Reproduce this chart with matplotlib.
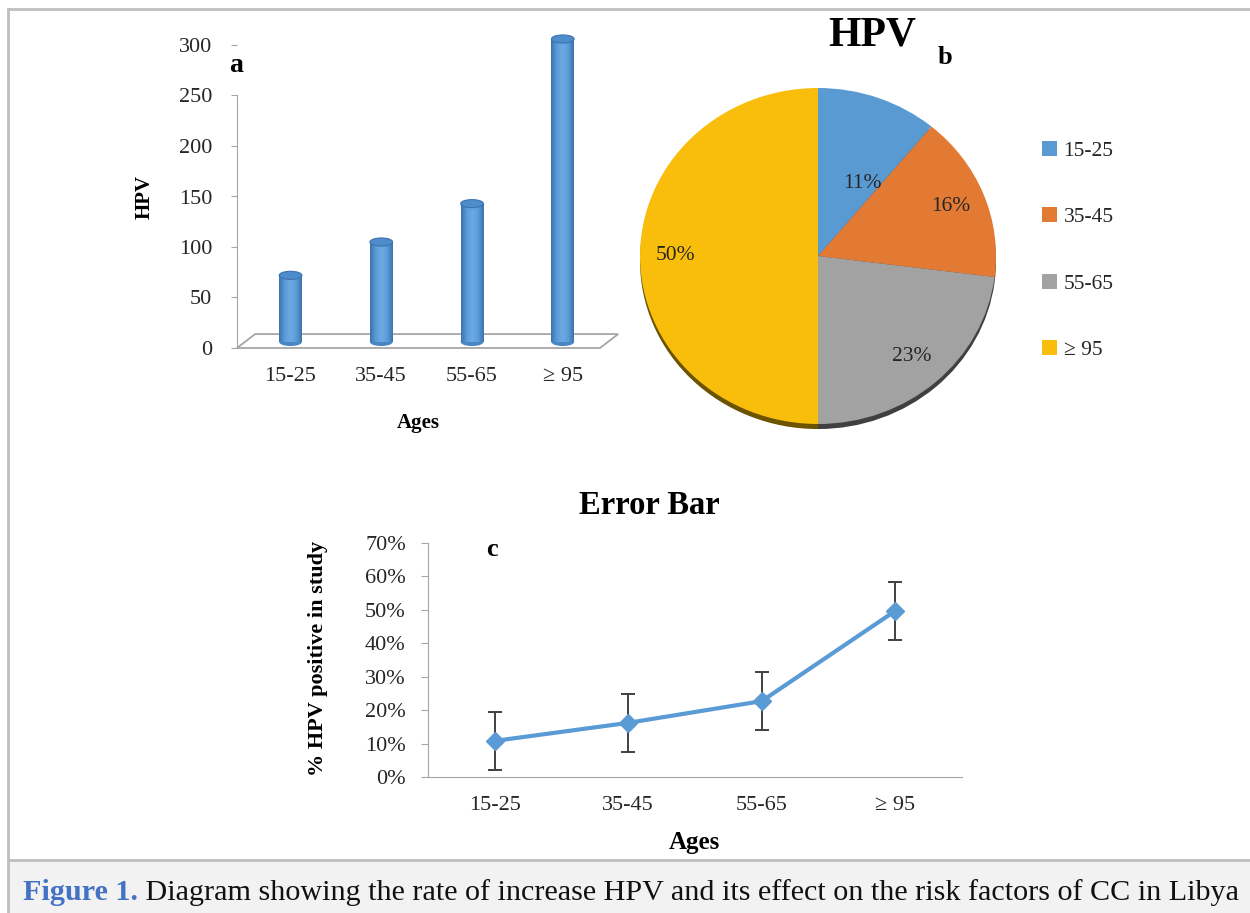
import numpy as np
import matplotlib
matplotlib.use("Agg")
import matplotlib.pyplot as plt
from matplotlib.patches import Ellipse, Polygon, Rectangle
from matplotlib.colors import LinearSegmentedColormap
from matplotlib.ticker import PercentFormatter

plt.rcParams['font.family'] = ['Liberation Serif', 'DejaVu Serif']

# data
ages = ['15-25', '35-45', '55-65', '\u2265 95']
hpv_counts = [66, 99, 137, 300]
hpv_share = [11, 16, 23, 50]
pos_rate = [0.108, 0.162, 0.227, 0.497]
pos_err = [0.086, 0.087, 0.087, 0.087]

W, H = 1250, 913
blue = '#5b9bd5'
pie_colors = ['#5a9ad3', '#e27a33', '#a2a2a2', '#f9be0c']
shadow_colors = ['#2f4f6e', '#6e3a16', '#404040', '#6b5300']
tick_col = '#262626'
axis_col = '#a6a6a6'


def px_rect(x0, y0, x1, y1):
    """Figure rect from pixel box (y measured from top)"""
    return [x0 / W, 1 - y1 / H, (x1 - x0) / W, (y1 - y0) / H]


fig = plt.figure(figsize=(W / 100, H / 100), dpi=100)

# background: frame and caption band, in pixel coords
bg = fig.add_axes([0, 0, 1, 1], zorder=-5)
bg.set_xlim(0, W)
bg.set_ylim(H, 0)
bg.axis('off')
bg.add_patch(Rectangle((8, 860), W, 60, facecolor='#f2f2f2', edgecolor='none'))
bg.plot([8, W], [860, 860], color='#bfbfbf', lw=2)
bg.plot([8, W], [9, 9], color='#bfbfbf', lw=2)
bg.plot([8, 8], [9, H], color='#bfbfbf', lw=2)
t1 = bg.text(23, 900, 'Figure 1.', color='#4472c4', fontweight='bold',
             fontsize=21.7, va='baseline')
bg.annotate(' Diagram showing the rate of increase HPV and its effect on the '
            'risk factors of CC in Libya', xy=(1, 0), xycoords=t1,
            va='bottom', ha='left', fontsize=21.7, color='#111111')

# ---- panel a: 3D-like cylinder bars
ax = fig.add_axes(px_rect(237, 45, 600, 348))
x = np.arange(len(ages))
ax.set_xlim(-0.59, 3.41)
ax.set_ylim(0, 300)
ax.add_patch(Polygon([(0, 0), (1, 0), (1.05, 0.046), (0.05, 0.046)],
                     closed=True, transform=ax.transAxes, facecolor='white',
                     edgecolor=axis_col, lw=1.3, zorder=1, clip_on=False))
ax.set_facecolor('none')
for s in ['top', 'right', 'bottom']:
    ax.spines[s].set_visible(False)
ax.spines['left'].set_color(axis_col)
ax.spines['left'].set_bounds(0, 250)
ax.set_yticks(np.arange(0, 301, 50))
ax.set_xticks(x, labels=ages)
ax.tick_params(axis='y', length=4, color=axis_col, labelsize=16,
               labelcolor=tick_col, pad=14)
ax.tick_params(axis='x', length=0, labelsize=16, labelcolor=tick_col, pad=14)

# bars sit on the middle depth plane of the 3D floor: same scale, lifted 6px
axb = fig.add_axes(px_rect(237, 39, 600, 342))
axb.set_facecolor('none')
axb.axis('off')
bw = 0.25
bars = axb.bar(x, hpv_counts, width=bw, color=blue, zorder=2)
cyl = LinearSegmentedColormap.from_list(
    'cyl', ['#3b73ae', '#5b9bd6', '#6aaae5', '#5d9dd8', '#3c74b0'])
grad = np.linspace(0, 1, 64).reshape(1, -1)
cap_h = 8
for b in bars:
    bx0, bx1 = b.get_x(), b.get_x() + b.get_width()
    top = b.get_height()
    axb.add_patch(Ellipse((b.get_x() + bw / 2, 0), bw, cap_h,
                          facecolor='#4a86c4', edgecolor='none', zorder=1.9,
                          clip_on=False))
    im = axb.imshow(grad, extent=[bx0, bx1, 0, top], aspect='auto',
                    cmap=cyl, zorder=2.1)
    im.set_clip_path(b)
    axb.add_patch(Ellipse((b.get_x() + bw / 2, top), bw, cap_h,
                          facecolor='#4f8ccb', edgecolor='#3b73ae',
                          lw=0.8, zorder=3, clip_on=False))
axb.set_xlim(-0.59, 3.41)
axb.set_ylim(0, 300)

fig.text(145 / W, 1 - 197 / H, 'HPV', rotation=90, fontweight='bold',
         fontsize=15, ha='center', va='center')
fig.text(418 / W, 1 - 423 / H, 'Ages', fontweight='bold', fontsize=15,
         ha='center', va='center')
fig.text(236 / W, 1 - 65 / H, 'a', fontweight='bold', fontsize=20,
         ha='center', va='center')

# ---- panel b: pie
axp = fig.add_axes(px_rect(640, 88, 996, 424))
sh, _ = axp.pie(hpv_share, colors=shadow_colors, startangle=90,
                counterclock=False, center=(0, -0.03),
                wedgeprops=dict(linewidth=0))
for w in sh:
    w.set_clip_on(False)
wedges, _, autotexts = axp.pie(
    hpv_share, colors=pie_colors, startangle=90, counterclock=False,
    autopct='%1.0f%%', pctdistance=0.8, wedgeprops=dict(linewidth=0),
    textprops=dict(fontsize=15.5, color=tick_col))
# small first slice: pull its label towards the centre
mid = np.deg2rad((wedges[0].theta1 + wedges[0].theta2) / 2 - 10)
autotexts[0].set_position((0.5 * np.cos(mid), 0.5 * np.sin(mid)))
axp.set_aspect('auto')
axp.set_xlim(-1, 1)
axp.set_ylim(-1, 1)
axp.legend(wedges, ages, loc='upper left',
           bbox_to_anchor=(1042 / W, 1 - 141 / H),
           bbox_transform=fig.transFigure, frameon=False, fontsize=15.5,
           handlelength=0.7, handleheight=0.7, handletextpad=0.3,
           labelspacing=2.15, borderpad=0, borderaxespad=0,
           labelcolor=tick_col)
fig.text(872 / W, 1 - 35 / H, 'HPV', fontweight='bold', fontsize=30,
         ha='center', va='center')
fig.text(945 / W, 1 - 57 / H, 'b', fontweight='bold', fontsize=19,
         ha='center', va='center')

# ---- panel c: line with error bars
axc = fig.add_axes(px_rect(428, 543, 962, 777))
axc.errorbar(x, pos_rate, yerr=pos_err, fmt='none', ecolor='#404040',
             elinewidth=1.4, capsize=4.8, capthick=1.4, zorder=2)
axc.plot(x, pos_rate, color=blue, lw=3, marker='D', ms=9, zorder=3)
axc.set_xlim(-0.5, 3.5)
axc.set_ylim(0, 0.7)
axc.set_yticks(np.arange(0, 0.71, 0.1))
axc.yaxis.set_major_formatter(PercentFormatter(1.0, decimals=0))
axc.set_xticks(x, labels=ages)
for s in ['top', 'right']:
    axc.spines[s].set_visible(False)
for s in ['left', 'bottom']:
    axc.spines[s].set_color(axis_col)
axc.tick_params(axis='y', length=5, color=axis_col, labelsize=16,
                labelcolor=tick_col, pad=11)
axc.tick_params(axis='x', length=0, labelsize=16, labelcolor=tick_col,
                pad=14)
fig.text(649 / W, 1 - 505 / H, 'Error Bar', fontweight='bold', fontsize=23.5,
         ha='center', va='center')
fig.text(492 / W, 1 - 549 / H, 'c', fontweight='bold', fontsize=19,
         ha='center', va='center')
fig.text(318 / W, 1 - 658 / H, '% HPV positive in study', rotation=90,
         fontweight='bold', fontsize=16, ha='center', va='center')
fig.text(694 / W, 1 - 842 / H, 'Ages', fontweight='bold', fontsize=18,
         ha='center', va='center')

fig.savefig('out.png', dpi=100)
